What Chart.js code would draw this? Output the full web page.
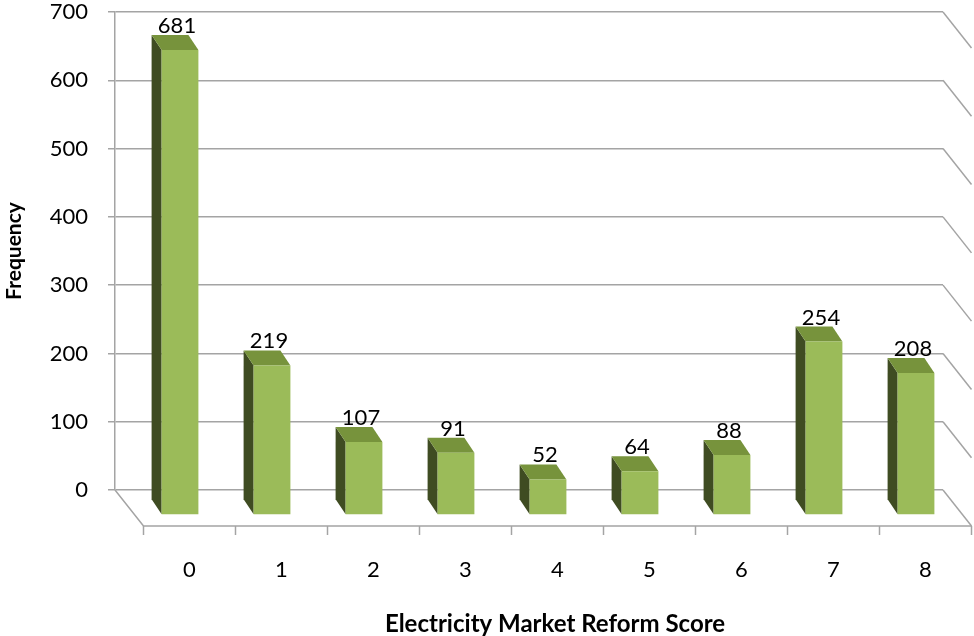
<!DOCTYPE html>
<html>
<head>
<meta charset="utf-8">
<script src="https://cdn.jsdelivr.net/npm/chart.js@4.4.1/dist/chart.umd.min.js"></script>
<style>
  html, body { margin: 0; padding: 0; background: #fff; }
  #wrap { width: 974px; height: 636px; }
</style>
</head>
<body>
<div id="wrap"><canvas id="chart" width="974" height="636"></canvas></div>
<script>
// chart data
var categories = ['0', '1', '2', '3', '4', '5', '6', '7', '8'];
var frequencies = [681, 219, 107, 91, 52, 64, 88, 254, 208];
var yMin = 0;
var yMax = 700;
var yStep = 100;
var xTitle = 'Electricity Market Reform Score';
var yTitle = 'Frequency';

// fake 3d offsets
var FLOOR_DX = 28.5, FLOOR_DY = 36;   // back wall -> front edge of floor
var FRONT_DX = 19, FRONT_DY = 25;     // back wall -> front face of bars
var DEPTH_DX = -10, DEPTH_DY = -15;   // front face -> back face of a bar
var lineColor = '#a4a4a4';
var font = 'Lato, "Open Sans", sans-serif';

var bar3d = {
  id: 'bar3d',
  beforeDatasetsDraw: function(chart) {
    var ctx = chart.ctx;
    var area = chart.chartArea;
    var y = chart.scales.y;
    ctx.save();
    ctx.strokeStyle = lineColor;
    ctx.lineWidth = 1.5;
    // right wall diagonals
    y.ticks.forEach(function(t) {
      var py = y.getPixelForValue(t.value);
      ctx.beginPath();
      ctx.moveTo(area.right, py);
      ctx.lineTo(area.right + FLOOR_DX, py + FLOOR_DY);
      ctx.stroke();
    });
    // floor
    ctx.beginPath();
    ctx.moveTo(area.left, area.bottom);
    ctx.lineTo(area.left + FLOOR_DX, area.bottom + FLOOR_DY);
    ctx.lineTo(area.right + FLOOR_DX, area.bottom + FLOOR_DY);
    ctx.stroke();
    // tick marks on the front edge of the floor
    var step = (area.right - area.left) / categories.length;
    for (var i = 0; i <= categories.length; i++) {
      var tx = area.left + FLOOR_DX + i * step;
      ctx.beginPath();
      ctx.moveTo(tx, area.bottom + FLOOR_DY);
      ctx.lineTo(tx, area.bottom + FLOOR_DY + 9);
      ctx.stroke();
    }
    // side and top faces of the bars
    chart.getDatasetMeta(0).data.forEach(function(bar) {
      var p = bar.getProps(['x', 'y', 'base', 'width'], true);
      var x0 = p.x - p.width / 2 + FRONT_DX;
      var x1 = p.x + p.width / 2 + FRONT_DX;
      var top = p.y + FRONT_DY;
      var bottom = p.base + FRONT_DY;
      ctx.fillStyle = '#3f4c22';
      ctx.beginPath();
      ctx.moveTo(x0, top);
      ctx.lineTo(x0 + DEPTH_DX, top + DEPTH_DY);
      ctx.lineTo(x0 + DEPTH_DX, bottom + DEPTH_DY);
      ctx.lineTo(x0, bottom);
      ctx.closePath();
      ctx.fill();
      ctx.fillStyle = '#77933c';
      ctx.beginPath();
      ctx.moveTo(x0, top);
      ctx.lineTo(x1, top);
      ctx.lineTo(x1 + DEPTH_DX, top + DEPTH_DY);
      ctx.lineTo(x0 + DEPTH_DX, top + DEPTH_DY);
      ctx.closePath();
      ctx.fill();
    });
    ctx.restore();
    // front faces are the library's own bars, pushed forward
    ctx.save();
    ctx.translate(FRONT_DX, FRONT_DY);
  },
  afterDatasetsDraw: function(chart) {
    var ctx = chart.ctx;
    ctx.restore();
    ctx.save();
    ctx.fillStyle = '#000';
    ctx.font = '22px ' + font;
    ctx.textAlign = 'center';
    ctx.textBaseline = 'alphabetic';
    chart.getDatasetMeta(0).data.forEach(function(bar, i) {
      var p = bar.getProps(['x', 'y'], true);
      ctx.fillText(String(frequencies[i]), p.x + FRONT_DX - 3, p.y + FRONT_DY + DEPTH_DY - 2);
    });
    ctx.font = 'bold 24px ' + font;
    ctx.textBaseline = 'middle';
    ctx.fillText(xTitle, 555, 624);
    ctx.restore();
  }
};

var ctx = document.getElementById('chart').getContext('2d');
var chart = new Chart(ctx, {
  type: 'bar',
  data: {
    labels: categories,
    datasets: [{
      data: frequencies,
      backgroundColor: '#9bbb59',
      borderWidth: 0,
      barPercentage: 0.4,
      categoryPercentage: 1.0
    }]
  },
  options: {
    responsive: false,
    animation: false,
    layout: { padding: { top: 12, right: 31, left: 0, bottom: 0 } },
    plugins: {
      legend: { display: false },
      tooltip: { enabled: false }
    },
    scales: {
      x: {
        offset: true,
        grid: { display: false },
        border: { display: false },
        ticks: {
          color: '#000',
          font: { family: font, size: 22 },
          labelOffset: FLOOR_DX,
          padding: 59
        },
        afterFit: function(s) {
          s.height = 146;
          s.paddingLeft = 0;
          s.paddingRight = 0;
        }
      },
      y: {
        min: yMin,
        max: yMax,
        ticks: {
          stepSize: yStep,
          color: '#000',
          font: { family: font, size: 22 },
          padding: 20
        },
        grid: { color: lineColor, lineWidth: 1.5, tickLength: 7 },
        border: { color: lineColor, width: 1.5 },
        title: {
          display: true,
          text: yTitle,
          color: '#000',
          font: { family: font, size: 21, weight: 'bold' },
          padding: { top: 2, bottom: 0 }
        },
        afterFit: function(s) {
          s.width = 115;
          s.paddingTop = 0;
          s.paddingBottom = 0;
        }
      }
    }
  },
  plugins: [bar3d]
});
</script>
</body>
</html>
